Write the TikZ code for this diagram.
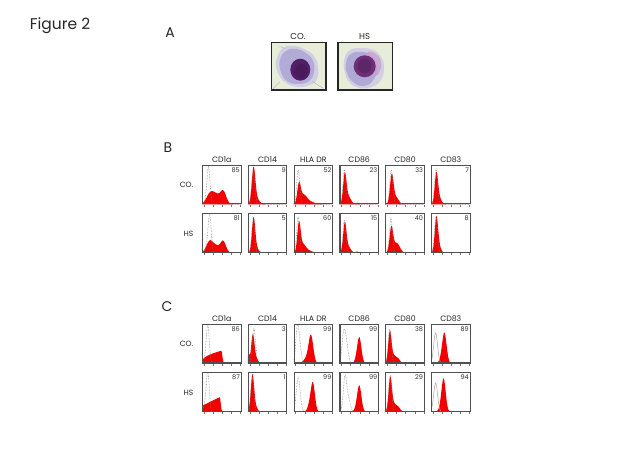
\documentclass[tikz,border=0pt]{standalone}
\usepackage{fontspec}
\setmainfont{Poppins}
\definecolor{histred}{HTML}{F20000}
\definecolor{boxgray}{HTML}{505050}
\definecolor{ctrlgray}{HTML}{808080}
\definecolor{cellbg}{HTML}{E8EDDA}
\definecolor{cytolight}{HTML}{CDC8E6}
\definecolor{cytodark}{HTML}{ABA3D4}
\definecolor{nucco}{HTML}{521E68}
\definecolor{nuchs}{HTML}{6E2E78}
\definecolor{cytopink}{HTML}{C8A4CE}
\pgfmathdeclarefunction{G}{4}{\pgfmathparse{(#4)*exp(-((((#1)-(#2))/(#3))^2))}}
\tikzset{
  panelbox/.style={draw=boxgray,line width=1.1pt,minimum width=38.5pt,minimum height=38.3pt,inner sep=0pt,anchor=south west},
  ctrl/.style={ctrlgray,line width=0.55pt,densely dotted},
  ctrlsolid/.style={ctrlgray!70,line width=0.5pt},
  numlab/.style={font=\fontsize{6.5}{7}\selectfont,inner sep=0pt,anchor=north east,text=black!80},
  collab/.style={font=\fontsize{7.8}{8}\selectfont,inner sep=0pt,anchor=base,text=black!85},
  rowlab/.style={font=\fontsize{7.6}{8}\selectfont,inner sep=0pt,anchor=east,text=black!85},
  panellab/.style={font=\fontsize{14}{15}\selectfont,inner sep=0pt,text=black!85},
  cellbox/.style={draw=black!85,line width=1.4pt,minimum width=54.6pt,minimum height=47.7pt,inner sep=0pt,anchor=south west},
  tickline/.style={boxgray!80,line width=0.4pt},
}
\newcommand{\histo}[7][ctrl]{%
  \begin{scope}[shift={(#2,#3)},x=38.5pt,y=38.3pt]
    \clip (0,0) rectangle (1,1);
    \fill[histred] (0,0) -- plot[domain=0:1,samples=101] (\x,{#4}) -- (1,0) -- cycle;
    \draw[#1] plot[domain=0:1,samples=101] (\x,{#5});
  \end{scope}
  \node[panelbox] (#7) at (#2,#3) {};
  \node[numlab] (#7n) at ([xshift=-1.6pt,yshift=-2.4pt]#7.north east) {#6};
  \foreach \t in {0.05,0.29,0.53,0.77,1.0}
    \draw[tickline] ([xshift=\t*38.5pt,yshift=-0.6pt]#7.south west) -- ++(0,-1.8pt);
}
\begin{document}
\begin{tikzpicture}[x=1pt,y=1pt]
\useasboundingbox (0,0) rectangle (640,453);
\fill[white] (0,0) rectangle (640,453);

% titles
\node[font=\fontsize{15.5}{17}\selectfont,inner sep=0pt,text=black!85] (fig) at (60,427) {Figure 2};
\node[panellab] (labA) at (170,420) {A};
\node[panellab] (labB) at (168,305) {B};
\node[panellab] (labC) at (167,146) {C};

% ---- panel A cells ----
\fill[cellbg] (270.7,362.3) rectangle ++(54.6,47.7);
\fill[cytolight,opacity=0.8] plot[smooth cycle,tension=0.8] coordinates {(277,395) (283,405) (294,407) (306,403) (314,397) (318,386) (317,374) (310,368) (298,366) (286,370) (279,378) (276,387)};
\fill[cytodark,opacity=0.8] plot[smooth cycle,tension=0.8] coordinates {(280,393) (286,402) (296,404) (306,400) (313,392) (314,381) (309,372) (298,369) (287,372) (281,381)};
\draw[cytodark,line width=0.3pt] (312,372) .. controls (318,368) and (320,366) .. (323,365);
\draw[cytodark,line width=0.3pt] (280,371) .. controls (276,368) and (275,366) .. (273,364);
\draw[cytodark,line width=0.3pt] (285,404) .. controls (282,406) and (280,407) .. (278,406);
\fill[nucco] (300.3,383.3) ellipse (10 and 11);
\fill[nucco!80!black,opacity=0.6] (301,382) ellipse (6.5 and 7.5);
\node[cellbox] (cellco) at (270.7,362.3) {};
\node[collab,font=\fontsize{8.6}{9}\selectfont,anchor=center] (cellcolab) at (298,416.5) {CO.};

\fill[cellbg] (337.3,362.3) rectangle ++(54.6,47.7);
\fill[cytolight,opacity=0.8] plot[smooth cycle,tension=0.8] coordinates {(344,392) (349,402) (360,405) (373,403) (381,396) (384,385) (381,373) (372,366) (360,365) (350,370) (345,380)};
\fill[cytodark,opacity=0.85] plot[smooth cycle,tension=0.8] coordinates {(346,390) (351,399) (362,401) (372,397) (377,386) (374,374) (364,367) (353,371) (347,380)};
\fill[cytopink,opacity=0.85] plot[smooth cycle,tension=0.8] coordinates {(368,401) (377,398) (381,390) (379,380) (373,378) (370,390)};
\fill[nuchs] (364.7,386.7) circle (11);
\fill[nuchs!75!black,opacity=0.6] (364.5,387) ellipse (7 and 7.5);
\node[cellbox] (cellhs) at (337.3,362.3) {};
\node[collab,font=\fontsize{8.6}{9}\selectfont,anchor=center] (cellhslab) at (364.6,416.5) {HS};

% ---- panel B ----
% row CO.
\histo{202}{248.7}{G(\x,0.22,0.14,0.3)+G(\x,0.55,0.11,0.34)+G(\x,0.38,0.12,0.18)}{G(\x,0.17,0.055,0.92)+G(\x,0.12,0.08,0.1)}{85}{b11}
\histo{247.8}{248.7}{G(\x,0.15,0.065,0.95)+G(\x,0.25,0.09,0.12)}{G(\x,0.14,0.06,0.8)}{9}{b12}
\histo{293.6}{248.7}{G(\x,0.14,0.06,0.45)+G(\x,0.25,0.14,0.25)+G(\x,0.46,0.15,0.05)}{G(\x,0.12,0.055,0.9)}{52}{b13}
\histo{339.4}{248.7}{G(\x,0.14,0.06,0.75)+G(\x,0.23,0.1,0.2)+G(\x,0.46,0.04,0.04)}{G(\x,0.13,0.055,0.9)}{23}{b14}
\histo{385.2}{248.7}{G(\x,0.17,0.065,0.75)+G(\x,0.28,0.1,0.18)}{G(\x,0.16,0.055,0.9)}{33}{b15}
\histo{431}{248.7}{G(\x,0.14,0.06,0.8)+G(\x,0.22,0.08,0.15)}{G(\x,0.13,0.055,0.92)}{7}{b16}
% row HS
\histo{202}{200.3}{G(\x,0.2,0.12,0.3)+G(\x,0.55,0.1,0.3)+G(\x,0.37,0.12,0.16)}{G(\x,0.2,0.055,0.95)+G(\x,0.14,0.07,0.15)}{81}{b21}
\histo{247.8}{200.3}{G(\x,0.15,0.06,0.9)+G(\x,0.23,0.08,0.1)}{G(\x,0.14,0.055,0.85)}{5}{b22}
\histo{293.6}{200.3}{G(\x,0.14,0.06,0.75)+G(\x,0.25,0.11,0.22)+G(\x,0.43,0.1,0.04)}{G(\x,0.12,0.055,0.95)}{60}{b23}
\histo{339.4}{200.3}{G(\x,0.14,0.06,0.75)+G(\x,0.23,0.09,0.15)+G(\x,0.46,0.05,0.03)}{G(\x,0.13,0.055,0.85)}{15}{b24}
\histo{385.2}{200.3}{G(\x,0.16,0.065,0.65)+G(\x,0.3,0.11,0.25)}{G(\x,0.15,0.055,0.9)}{40}{b25}
\histo{431}{200.3}{G(\x,0.14,0.06,0.9)+G(\x,0.21,0.07,0.15)}{G(\x,0.13,0.055,0.95)}{8}{b26}

% ---- panel C ----
% row CO.
\histo{202}{89.5}{(\x<0.5)*(0.05+0.4*sqrt(\x))+(\x>=0.5)*0.333*exp(-(((\x-0.5)/0.04)^2))}{G(\x,0.15,0.055,0.95)+G(\x,0.1,0.08,0.1)}{86}{c11}
\histo{247.8}{89.5}{G(\x,0.13,0.06,0.75)+G(\x,0.02,0.03,0.25)+G(\x,0.22,0.07,0.12)}{G(\x,0.16,0.06,0.92)}{3}{c12}
\histo{293.6}{89.5}{G(\x,0.45,0.085,0.72)+G(\x,0.33,0.11,0.12)}{G(\x,0.1,0.06,0.95)+G(\x,0.17,0.06,0.3)}{99}{c13}
\histo{339.4}{89.5}{G(\x,0.52,0.075,0.65)+G(\x,0.45,0.07,0.1)}{G(\x,0.12,0.07,0.85)+G(\x,0.2,0.06,0.3)}{99}{c14}
\histo{385.2}{89.5}{G(\x,0.12,0.06,0.8)+G(\x,0.23,0.1,0.2)+G(\x,0.35,0.07,0.08)}{G(\x,0.12,0.055,0.9)}{38}{c15}
\histo[ctrlsolid]{431}{89.5}{G(\x,0.35,0.08,0.75)+G(\x,0.28,0.09,0.1)}{G(\x,0.12,0.07,0.8)}{89}{c16}
% row HS
\histo{202}{41.3}{(\x<0.46)*(0.15+0.5*\x)+(\x>=0.46)*0.38*exp(-(((\x-0.46)/0.035)^2))}{G(\x,0.15,0.055,0.95)+G(\x,0.1,0.08,0.15)}{87}{c21}
\histo{247.8}{41.3}{G(\x,0.12,0.06,0.95)+G(\x,0.2,0.07,0.12)}{G(\x,0.12,0.055,0.9)}{1}{c22}
\histo{293.6}{41.3}{G(\x,0.5,0.075,0.75)+G(\x,0.41,0.07,0.15)}{G(\x,0.12,0.07,0.9)}{99}{c23}
\histo{339.4}{41.3}{G(\x,0.52,0.075,0.65)+G(\x,0.45,0.07,0.1)}{G(\x,0.15,0.065,0.95)+G(\x,0.25,0.06,0.25)}{99}{c24}
\histo{385.2}{41.3}{G(\x,0.13,0.06,0.85)+G(\x,0.23,0.1,0.2)+G(\x,0.35,0.07,0.08)}{G(\x,0.13,0.055,0.95)}{29}{c25}
\histo[ctrlsolid]{431}{41.3}{G(\x,0.33,0.075,0.8)+G(\x,0.27,0.08,0.12)}{G(\x,0.12,0.07,0.75)}{94}{c26}

% column labels
\foreach \r in {b1,c1}{
  \node[collab] (\r lab1) at ([yshift=2.2pt]\r1.north) {CD1a};
  \node[collab] (\r lab2) at ([yshift=2.2pt]\r2.north) {CD14};
  \node[collab] (\r lab3) at ([yshift=2.2pt]\r3.north) {HLA DR};
  \node[collab] (\r lab4) at ([yshift=2.2pt]\r4.north) {CD86};
  \node[collab] (\r lab5) at ([yshift=2.2pt]\r5.north) {CD80};
  \node[collab] (\r lab6) at ([yshift=2.2pt]\r6.north) {CD83};
}
% row labels
\node[rowlab] (bco) at ([xshift=-8.5pt,yshift=0pt]b11.west) {CO.};
\node[rowlab] (bhs) at ([xshift=-8.5pt,yshift=-0.5pt]b21.west) {HS};
\node[rowlab] (cco) at ([xshift=-8.5pt,yshift=0pt]c11.west) {CO.};
\node[rowlab] (chs) at ([xshift=-8.5pt,yshift=-0.5pt]c21.west) {HS};
\end{tikzpicture}
\end{document}
